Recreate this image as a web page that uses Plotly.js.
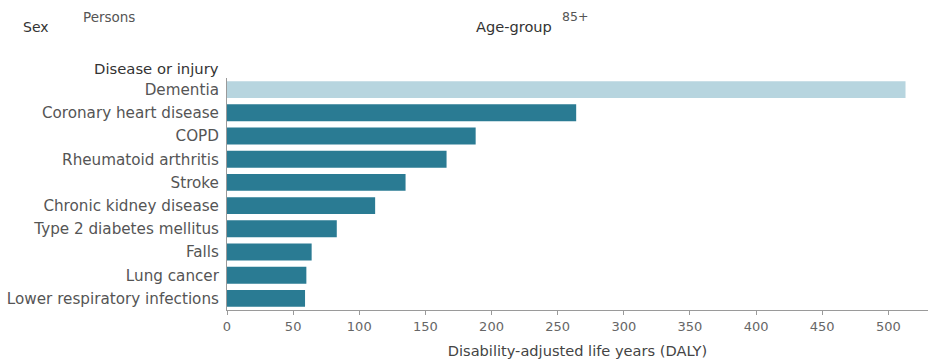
<!DOCTYPE html>
<html><head><meta charset="utf-8">
<script src="https://cdn.plot.ly/plotly-3.0.1.min.js"></script>
<style>html,body{margin:0;padding:0;background:#fff}#chart{width:929px;height:360px}</style>
</head><body><div id="chart"></div>
<script>
const categories = ["Dementia","Coronary heart disease","COPD","Rheumatoid arthritis","Stroke","Chronic kidney disease","Type 2 diabetes mellitus","Falls","Lung cancer","Lower respiratory infections"];
const daly = [513, 264, 188, 166, 135, 112, 83, 64, 60, 59];
const highlight = "Dementia";
const tickVals = [0,50,100,150,200,250,300,350,400,450,500];

const colors = categories.map(c => c === highlight ? "#b7d5df" : "#2a7b93");
const font = "DejaVu Sans, sans-serif";

const W = 929, H = 360, L = 227, R = 1, T = 78, B = 50;
const pw = W - L - R, ph = H - T - B;
function ann(text, px, py, size, color, anchor) {
  return {text: text, showarrow: false, xref: "paper", yref: "paper",
    x: (px - L) / pw, y: (H - B - py) / ph, xanchor: anchor || "left", yanchor: "middle",
    font: {family: font, size: size, color: color}};
}

Plotly.newPlot("chart", [{
  type: "bar", orientation: "h",
  x: daly, y: categories,
  marker: {color: colors, line: {width: 0}},
  hoverinfo: "x+y"
}], {
  width: W, height: H,
  margin: {l: L, r: R, t: T, b: B},
  paper_bgcolor: "#fff", plot_bgcolor: "#fff",
  bargap: 0.27,
  showlegend: false,
  font: {family: font, color: "#555"},
  xaxis: {
    range: [0, 530], tickvals: tickVals, showgrid: false, zeroline: false,
    showline: true, linecolor: "#9a9a9a", linewidth: 1,
    ticks: "outside", ticklen: 4, tickcolor: "#9a9a9a",
    tickfont: {size: 13, color: "#666", family: font},
    title: {text: "Disability-adjusted life years (DALY)", font: {size: 14.6, color: "#444", family: font}, standoff: 13}
  },
  yaxis: {
    autorange: "reversed", showgrid: false, zeroline: false,
    showline: true, linecolor: "#9a9a9a", linewidth: 1,
    ticks: "", ticklabelstandoff: 4,
    tickfont: {size: 15.2, color: "#555", family: font}
  },
  annotations: [
    ann("Sex", 21, 27, 14, "#333"),
    ann("Persons", 81, 17, 13.5, "#555"),
    ann("Age-group", 474, 27, 14.6, "#333"),
    ann("85+", 560, 17, 12.5, "#555"),
    ann("Disease or injury", 221, 68, 14.8, "#333", "right")
  ]
}, {displayModeBar: false, staticPlot: true});
</script></body></html>
